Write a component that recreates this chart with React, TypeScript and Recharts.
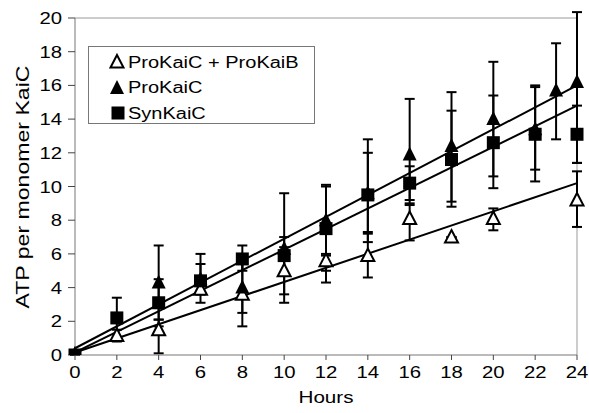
import {
  ComposedChart,
  ErrorBar,
  Label,
  Line,
  ReferenceLine,
  Scatter,
  XAxis,
  YAxis,
} from "recharts";

const FONT = "'Liberation Sans', Arial, Helvetica, sans-serif";

const HOUR_TICKS = [0, 2, 4, 6, 8, 10, 12, 14, 16, 18, 20, 22, 24];
const ATP_TICKS = [0, 2, 4, 6, 8, 10, 12, 14, 16, 18, 20];

// ProKaiC + ProKaiB (open triangles)
const PROB_HOURS = [0, 2, 4, 6, 8, 10, 12, 14, 16, 18, 20, 24];
const PROB_ATP = [0, 1.15, 1.5, 3.9, 3.6, 5.0, 5.6, 5.9, 8.1, 7.0, 8.1, 9.2];
const PROB_ERR = [
  [0, 0], [0.35, 0.35], [1.4, 0.6], [0.3, 0.3], [1.9, 1.9], [1.4, 1.4],
  [1.3, 0.4], [1.3, 1.4], [1.3, 0.9], [0, 0], [0.7, 0.6], [1.6, 1.7],
];

// ProKaiC (filled triangles)
const PRO_HOURS = [0, 4, 6, 8, 10, 12, 14, 16, 18, 20, 22, 23, 24];
const PRO_ATP = [0, 4.3, 4.5, 4.0, 6.3, 8.0, 9.6, 11.9, 12.4, 14.0, 13.4, 15.7, 16.2];
const PRO_ERR = [
  [0, 0], [2.2, 2.2], [0.9, 0.9], [1.5, 1.5], [3.2, 3.3], [2.1, 2.1], [2.4, 2.4],
  [3.0, 3.3], [3.6, 3.2], [3.4, 3.4], [2.4, 2.6], [2.9, 2.8], [4.8, 4.15],
];

// SynKaiC (squares)
const SYN_HOURS = [0, 2, 4, 6, 8, 10, 12, 14, 16, 18, 20, 22, 24];
const SYN_ATP = [0, 2.2, 3.1, 4.4, 5.7, 5.9, 7.5, 9.5, 10.2, 11.6, 12.6, 13.1, 13.1];
const SYN_ERR = [
  [0, 0], [1.2, 1.2], [1.4, 1.4], [1.3, 1.6], [0.7, 0.8], [1.1, 1.1], [2.5, 2.5],
  [2.8, 3.3], [1.0, 1.0], [2.5, 2.9], [2.7, 2.8], [2.8, 2.8], [1.7, 1.7],
];

// linear trend lines, start and end values
const TREND_HOURS = [0, 24];
const PROB_TREND = [0.15, 10.2];
const PRO_TREND = [0.4, 16.0];
const SYN_TREND = [0.15, 14.8];

const rows = (hours: number[], atp: number[], err?: number[][]) =>
  hours.map((h, i) => ({ x: h, y: atp[i], err: err ? err[i] : undefined }));

const Txt = ({ x, y, anchor = "middle", size = 16, sx = 1.27, children }: any) => (
  <text
    transform={`translate(${x},${y}) scale(${sx},1)`}
    textAnchor={anchor}
    fontSize={size}
    fontFamily={FONT}
    fill="#000"
  >
    {children}
  </text>
);

const OpenTriangle = ({ cx, cy }: any) => (
  <polygon
    points={`${cx},${cy - 7} ${cx + 6.5},${cy + 5.5} ${cx - 6.5},${cy + 5.5}`}
    fill="#fff"
    stroke="#000"
    strokeWidth={2}
  />
);

const FilledTriangle = ({ cx, cy }: any) => (
  <polygon
    points={`${cx},${cy - 8} ${cx + 7},${cy + 6} ${cx - 7},${cy + 6}`}
    fill="#000"
  />
);

const Square = ({ cx, cy }: any) => (
  <rect x={cx - 6.5} y={cy - 6.5} width={13} height={13} fill="#000" />
);

const XTick = ({ x, y, payload }: any) => (
  <Txt x={x} y={y + 18}>{payload.value}</Txt>
);

const YTick = ({ x, y, payload }: any) => (
  <Txt x={x - 6} y={y + 6} anchor="end">{payload.value}</Txt>
);

const LegendBox = () => (
  <svg width={228} height={79} style={{ display: "block" }}>
    <rect x={0.5} y={0.5} width={226} height={77} fill="#fff" stroke="#777" />
    <OpenTriangle cx={29} cy={16} />
    <Txt x={40} y={21.5} anchor="start" sx={1.25}>ProKaiC + ProKaiB</Txt>
    <FilledTriangle cx={29} cy={42} />
    <Txt x={40} y={47} anchor="start" sx={1.25}>ProKaiC</Txt>
    <Square cx={30} cy={67} />
    <Txt x={40} y={72.5} anchor="start" sx={1.25}>SynKaiC</Txt>
  </svg>
);

export default function App() {
  return (
    <div style={{ position: "absolute", left: 0, top: 0, width: 589, height: 413, background: "#fff" }}>
      <ComposedChart
        width={589}
        height={413}
        margin={{ top: 18, right: 12, bottom: 28, left: 0 }}
      >
        <XAxis
          dataKey="x"
          type="number"
          domain={[0, 24]}
          ticks={HOUR_TICKS}
          height={30}
          tickSize={5}
          tickMargin={0}
          stroke="#777"
          tickLine={{ stroke: "#444" }}
          tick={XTick}
        >
          <Label
            content={({ viewBox }: any) => (
              <Txt x={viewBox.x + viewBox.width / 2} y={403} size={16.5} sx={1.25}>
                Hours
              </Txt>
            )}
          />
        </XAxis>
        <YAxis
          dataKey="y"
          type="number"
          domain={[0, 20]}
          allowDataOverflow
          ticks={ATP_TICKS}
          width={75}
          tickSize={7}
          tickMargin={0}
          stroke="#777"
          tickLine={{ stroke: "#444" }}
          tick={YTick}
        >
          <Label
            content={() => (
              <text
                transform="translate(29,187) rotate(-90)"
                textAnchor="middle"
                fontSize={18}
                fontFamily={FONT}
                textLength={243}
                lengthAdjust="spacingAndGlyphs"
                fill="#000"
              >
                ATP per monomer KaiC
              </text>
            )}
          />
        </YAxis>
        <ReferenceLine y={20} stroke="#999" />
        <ReferenceLine x={24} stroke="#999" />

        <Line data={rows(TREND_HOURS, PROB_TREND)} dataKey="y" stroke="#000" strokeWidth={2} dot={false} isAnimationActive={false} legendType="none" />
        <Line data={rows(TREND_HOURS, PRO_TREND)} dataKey="y" stroke="#000" strokeWidth={2} dot={false} isAnimationActive={false} legendType="none" />
        <Line data={rows(TREND_HOURS, SYN_TREND)} dataKey="y" stroke="#000" strokeWidth={2} dot={false} isAnimationActive={false} legendType="none" />

        <Scatter name="ProKaiC + ProKaiB" data={rows(PROB_HOURS, PROB_ATP, PROB_ERR)} dataKey="y" shape={OpenTriangle} isAnimationActive={false}>
          <ErrorBar dataKey="err" direction="y" width={5} stroke="#000" strokeWidth={2} />
        </Scatter>
        <Scatter name="ProKaiC" data={rows(PRO_HOURS, PRO_ATP, PRO_ERR)} dataKey="y" shape={FilledTriangle} isAnimationActive={false}>
          <ErrorBar dataKey="err" direction="y" width={5} stroke="#000" strokeWidth={2} />
        </Scatter>
        <Scatter name="SynKaiC" data={rows(SYN_HOURS, SYN_ATP, SYN_ERR)} dataKey="y" shape={Square} isAnimationActive={false}>
          <ErrorBar dataKey="err" direction="y" width={5} stroke="#000" strokeWidth={2} />
        </Scatter>
      </ComposedChart>
      <div style={{ position: "absolute", left: 88, top: 46 }}>
        <LegendBox />
      </div>
    </div>
  );
}
